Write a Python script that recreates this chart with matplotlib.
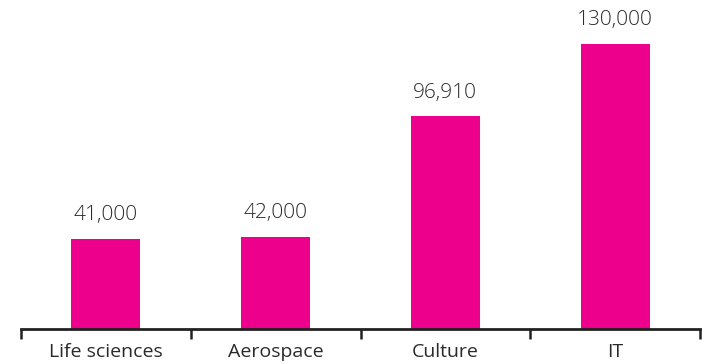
import matplotlib

matplotlib.use("Agg")

import matplotlib.pyplot as plt

categories = ["Life sciences", "Aerospace", "Culture", "IT"]
values = [41000, 42000, 96910, 130000]
value_labels = ["41,000", "42,000", "96,910", "130,000"]

plt.rcParams["font.family"] = ["Open Sans", "DejaVu Sans"]

fig = plt.figure(figsize=(7.02, 3.64), dpi=100)
ax = fig.add_axes([21 / 702, 35 / 364, 679 / 702, 329 / 364])

x = range(len(categories))
bars = ax.bar(x, values, width=0.406, color="#EC008C")
for xi, v, lab in zip(x, values, value_labels):
    ax.annotate(lab, (xi, v), xytext=(0, 10), textcoords="offset points",
                ha="center", va="bottom", fontsize=15, fontweight="light",
                color="#2a2a2a")

ax.set_xlim(-0.5, 3.5)
ax.set_ylim(0, 150000)
ax.set_xticks([-0.5, 0.5, 1.5, 2.5, 3.5])
ax.set_xticklabels([])
ax.set_xticks(list(x), minor=True)
ax.set_xticklabels(categories, minor=True, fontsize=14, color="#2a2a2a")
ax.tick_params(axis="x", which="major", direction="out", length=7, width=1.8, color="#222222")
ax.tick_params(axis="x", which="minor", length=0, pad=10)
ax.set_yticks([])
for side in ["top", "right", "left"]:
    ax.spines[side].set_visible(False)
ax.spines["bottom"].set_linewidth(2)
ax.spines["bottom"].set_color("#222222")

fig.savefig("out.png", dpi=100)
